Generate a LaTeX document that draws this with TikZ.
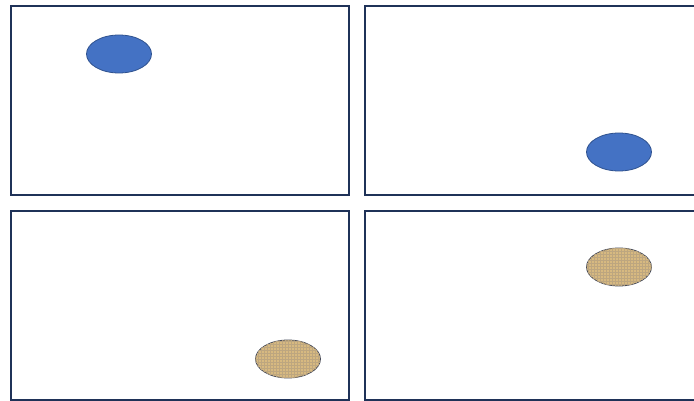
\documentclass[tikz,border=0pt]{standalone}
\usepackage{tikz}
\usetikzlibrary{shapes.geometric, patterns, positioning}
\definecolor{FrameNavy}{RGB}{31,50,88}
\definecolor{BlobBlue}{RGB}{68,114,196}
\definecolor{BlobEdge}{RGB}{47,82,143}
\definecolor{Burlap}{RGB}{215,185,128}
\definecolor{BurlapDark}{RGB}{160,128,72}
\definecolor{EdgeGrey}{RGB}{70,75,90}

\begin{document}
\begin{tikzpicture}[x=1pt,y=-1pt,
        frame/.style={draw=FrameNavy,line width=2.6pt,fill=white,
                      minimum width=338pt,minimum height=189pt,inner sep=0pt},
        blob/.style={ellipse,minimum width=65pt,minimum height=38pt,inner sep=0pt},
        blue/.style={blob,draw=BlobEdge,line width=0.8pt,fill=BlobBlue},
        cloth/.style={blob,draw=EdgeGrey,line width=0.8pt,fill=Burlap,
                      postaction={pattern=grid,pattern color=BurlapDark!70}}
      ]
        \clip (0,0) rectangle (694,401);
        \fill[white] (0,0) rectangle (694,401);
        % four panels, the right ones run off the page
        \node[frame] (tl) at (180,100.5) {};
        \node[frame] (tr) at (534,100.5) {};
        \node[frame] (bl) at (180,305.5) {};
        \node[frame] (br) at (534,305.5) {};
        % blobs
        \node[blue] (blueA) at (119,54) {};
        \node[blue] (blueB) at (619,152) {};
        \node[cloth] (clothA) at (288,359) {};
        \node[cloth] (clothB) at (619,267) {};
      \end{tikzpicture}
\end{document}
